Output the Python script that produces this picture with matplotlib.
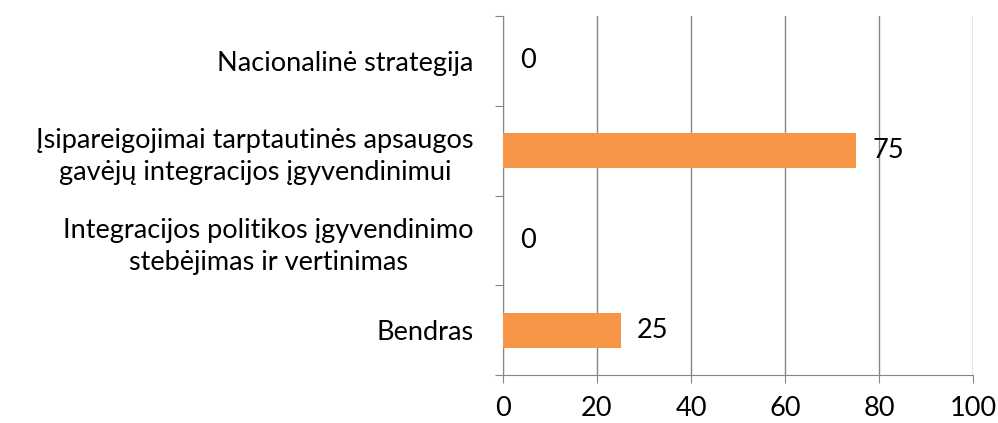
import matplotlib
matplotlib.use("Agg")
import matplotlib.pyplot as plt

categories = [
    "Nacionalinė strategija",
    "Įsipareigojimai tarptautinės apsaugos\ngavėjų integracijos įgyvendinimui",
    "Integracijos politikos įgyvendinimo\nstebėjimas ir vertinimas",
    "Bendras",
]
values = [0, 75, 0, 25]
x_ticks = [0, 20, 40, 60, 80, 100]

plt.rcParams['font.family'] = ['Lato', 'DejaVu Sans']
FS = 19.5

fig = plt.figure(figsize=(9.98, 4.23), dpi=100)
ax = fig.add_axes([503 / 998, 1 - 375 / 423, 470 / 998, 359 / 423])

pos = list(range(len(categories)))[::-1]
ax.barh(pos, values, height=0.39, color='#F79646', zorder=3)
for p, v in zip(pos, values):
    ax.annotate(str(v), (v, p), xytext=(12, 0), textcoords='offset points',
                va='center', ha='left', fontsize=FS, color='black', zorder=4)

ax.set_xlim(0, 100)
ax.set_ylim(-0.5, len(categories) - 0.5)
ax.set_xticks(x_ticks)
ax.set_xticklabels([str(t) for t in x_ticks], fontsize=FS)
ax.xaxis.grid(True, color='#868686', linewidth=1)
ax.set_axisbelow(True)

# category labels between boundary ticks
ax.set_yticks([p - 0.5 for p in range(len(categories) + 1)])
ax.set_yticklabels([])
ax.set_yticks(pos, minor=True)
ax.set_yticklabels(categories, minor=True, fontsize=FS,
                   multialignment='center', linespacing=1.35)
ax.tick_params(axis='y', which='minor', length=0, pad=21)
ax.tick_params(axis='y', which='major', length=6, color='#868686')
ax.tick_params(axis='x', length=6, color='#868686', pad=9)

for s in ['top', 'right']:
    ax.spines[s].set_visible(False)
for s in ['left', 'bottom']:
    ax.spines[s].set_color('#868686')

fig.savefig('out.png', dpi=100)
